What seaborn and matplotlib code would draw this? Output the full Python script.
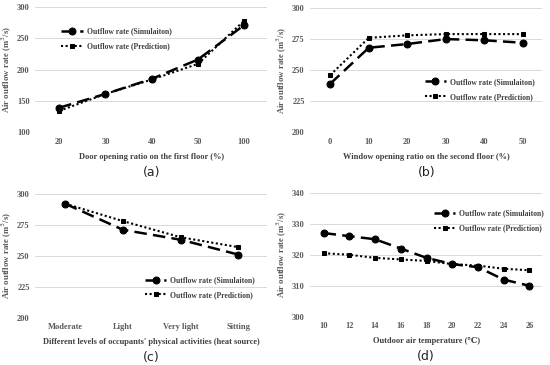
import numpy as np
import pandas as pd
import matplotlib
matplotlib.use("Agg")
import matplotlib.pyplot as plt
import seaborn as sns

sns.set_theme(style="white")
plt.rcParams['font.family'] = ['Liberation Serif', 'DejaVu Serif']

# (a) door opening ratio on the first floor
door_ratio = ['20', '30', '40', '50', '100']
door_sim = [139, 161, 185, 216, 271]
door_pred = [134, 161, 184, 209, 278]

# (b) window opening ratio on the second floor
win_ratio = ['0', '10', '20', '30', '40', '50']
win_sim = [239, 268, 271, 275, 274, 272]
win_pred = [246, 276, 278, 279, 279, 279]

# (c) occupants' activity level
activity = ['Moderate', 'Light', 'Very light', 'Sitting']
act_sim = [292, 271, 263, 251]
act_pred = [292, 278, 265, 257]

# (d) outdoor air temperature
temp = ['10', '12', '14', '16', '18', '20', '22', '24', '26']
temp_sim = [327, 326, 325, 322, 319, 317, 316, 312, 310]
temp_pred = [320.5, 320, 319, 318.5, 318, 317, 316.5, 315.5, 315]

grey = '#595959'

panels = [
    dict(x=door_ratio, sim=door_sim, pred=door_pred, ylim=(100, 300), yt=[100, 150, 200, 250, 300],
         xlabel='Door opening ratio on the first floor (%)', tag='(a)',
         rect=[0.064, 0.638, 0.422, 0.343], anchor=(0.10, 0.86)),
    dict(x=win_ratio, sim=win_sim, pred=win_pred, ylim=(200, 300), yt=[200, 225, 250, 275, 300],
         xlabel='Window opening ratio on the second floor (%)', tag='(b)',
         rect=[0.564, 0.638, 0.422, 0.340], anchor=(0.48, 0.46)),
    dict(x=activity, sim=act_sim, pred=act_pred, ylim=(200, 300), yt=[200, 225, 250, 275, 300],
         xlabel="Different levels of occupants' physical activities (heat source)", tag='(c)',
         rect=[0.064, 0.129, 0.422, 0.340], anchor=(0.46, 0.36)),
    dict(x=temp, sim=temp_sim, pred=temp_pred, ylim=(300, 340), yt=[300, 310, 320, 330, 340],
         xlabel='Outdoor air temperature (\u2103)', tag='(d)',
         rect=[0.564, 0.132, 0.422, 0.340], anchor=(0.52, 0.89)),
]

fig = plt.figure(figsize=(5.5, 3.65), dpi=100)

for p in panels:
    ax = fig.add_axes(p['rect'])
    df = pd.DataFrame({'x': p['x'], 'sim': p['sim'], 'pred': p['pred']})
    sns.lineplot(data=df, x='x', y='sim', ax=ax, color='black', lw=1.8,
                 linestyle=(0, (5, 2.5)), marker='o', markersize=5, markeredgecolor='black',
                 label='Outflow rate (Simulaiton)', sort=False)
    sns.lineplot(data=df, x='x', y='pred', ax=ax, color='black', lw=1.5,
                 linestyle=(0, (1, 1.2)), marker='s', markersize=3.5, markeredgecolor='black',
                 label='Outflow rate (Prediction)', sort=False)
    ax.set_ylim(*p['ylim'])
    ax.set_yticks(p['yt'])
    ax.set_xlim(-0.52, len(p['x']) - 0.5)
    ax.yaxis.grid(True, color='#d9d9d9', lw=0.7)
    ax.set_axisbelow(True)
    for s in ax.spines.values():
        s.set_visible(False)
    ax.tick_params(axis='both', length=0, labelsize=6, colors=grey, pad=4)
    for t in ax.get_xticklabels() + ax.get_yticklabels():
        t.set_fontweight('bold')
    ax.set_ylabel('Air outflow rate (m$^3$/s)', fontsize=6.3, color=grey, fontweight='bold', labelpad=2)
    ax.set_xlabel(p['xlabel'], fontsize=6.0, color='#404040', fontweight='bold', labelpad=5)
    leg = ax.legend(loc='upper left', bbox_to_anchor=p['anchor'], frameon=False, fontsize=5.5,
                    handlelength=2.8, labelspacing=0.9, borderaxespad=0, handletextpad=0.5)
    for t in leg.get_texts():
        t.set_color('#404040')
        t.set_fontweight('bold')
    ax.text(0.5, -0.27, p['tag'], transform=ax.transAxes, ha='center', va='top',
            fontsize=9, family='DejaVu Sans', color='#222222')

fig.savefig('out.png', dpi=100)
